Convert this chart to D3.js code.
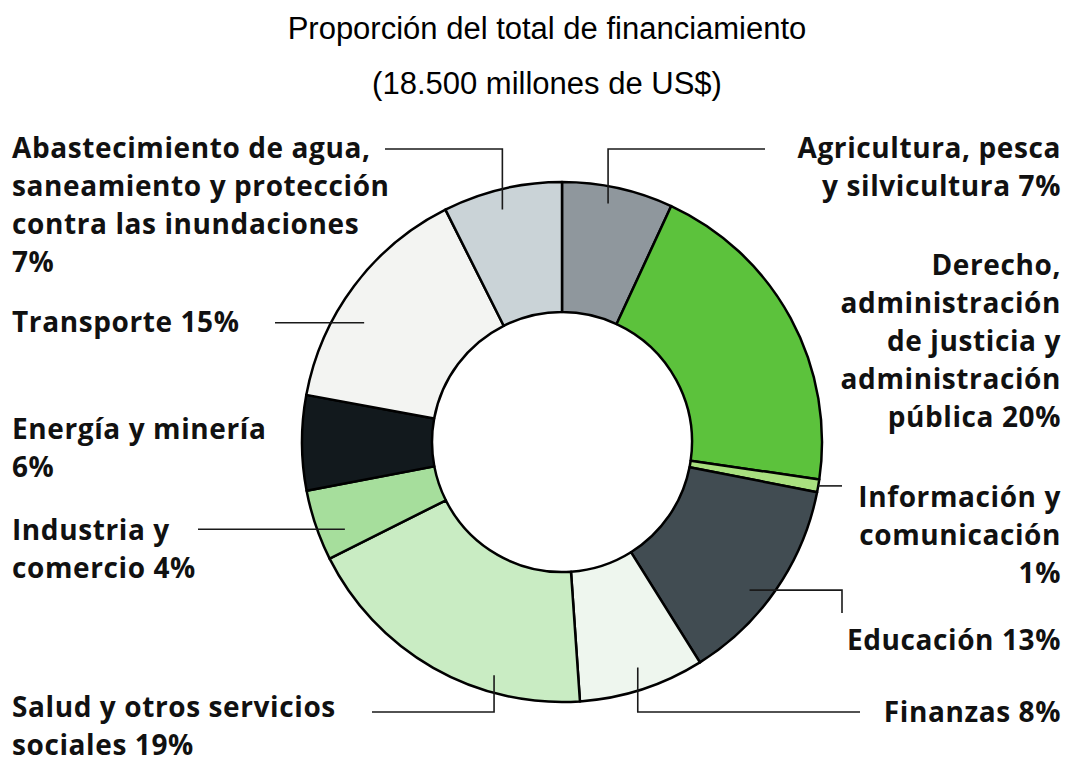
<!DOCTYPE html>
<html>
<head>
<meta charset="utf-8">
<script src="https://cdn.jsdelivr.net/npm/d3@7"></script>
<style>
  body { margin: 0; background: #fff; }
  #chart { width: 1068px; height: 763px; }
</style>
</head>
<body>
<div id="chart"></div>
<script>
// Title
const title = "Proporción del total de financiamiento";
const subtitle = "(18.500 millones de US$)";

// Sectors, clockwise from 12 o'clock
const sectors = [
    "Agricultura, pesca y silvicultura",
    "Derecho, administración de justicia y administración pública",
    "Información y comunicación",
    "Educación",
    "Finanzas",
    "Salud y otros servicios sociales",
    "Industria y comercio",
    "Energía y minería",
    "Transporte",
    "Abastecimiento de agua, saneamiento y protección contra las inundaciones"
];

// share of total financing (%)
const shares = [6.9, 20.4, 0.8, 13.0, 7.8, 18.7, 4.4, 5.9, 14.7, 7.4];

// label text as printed
const labelLines = [
    ["Agricultura, pesca", "y silvicultura 7%"],
    ["Derecho,", "administración", "de justicia y", "administración", "pública 20%"],
    ["Información y", "comunicación", "1%"],
    ["Educación 13%"],
    ["Finanzas 8%"],
    ["Salud y otros servicios", "sociales 19%"],
    ["Industria y", "comercio 4%"],
    ["Energía y minería", "6%"],
    ["Transporte 15%"],
    ["Abastecimiento de agua,", "saneamiento y protección", "contra las inundaciones", "7%"]
];

const colors = ["#8f979d", "#5cc23c", "#a9e07f", "#414c52", "#eef6ee",
                "#c9ecc3", "#a6de9c", "#12191d", "#f3f4f2", "#cad3d7"];

const width = 1068, height = 763;
const cx = 562, cy = 442;
const outerR = 260, innerR = 130;
const lineH = 38;

// label placement: side, first baseline, leader (anchor inside slice + elbow points)
const layout = [
    { side: "right", y: 158, leader: { frac: 0.44, r: 243, pts: s => [[s[0], 149], [765, 149]] } },
    { side: "right", y: 275, leader: null },
    { side: "right", y: 507, leader: { frac: 0.5, r: 260, pts: s => [[842, s[1]]] } },
    { side: "right", y: 650, leader: { frac: 0.58, r: 239, pts: s => [[842, s[1]], [842, 613]] } },
    { side: "right", y: 722, leader: { frac: 0.48, r: 238, pts: s => [[s[0], 712], [860, 712]] } },
    { side: "left", y: 717, leader: { frac: 0.30, r: 243, pts: s => [[s[0], 712], [372, 712]] } },
    { side: "left", y: 540, leader: { frac: 0.30, r: 234, pts: s => [[198, s[1]]] } },
    { side: "left", y: 439, leader: null },
    { side: "left", y: 332, leader: { frac: 0.39, r: 231, pts: s => [[275, s[1]]] } },
    { side: "left", y: 158, leader: { frac: 0.46, r: 240, pts: s => [[s[0], 149], [385, 149]] } }
];

const svg = d3.select("#chart")
    .append("svg")
    .attr("width", width)
    .attr("height", height);

svg.append("text")
    .attr("x", 547)
    .attr("y", 39)
    .attr("text-anchor", "middle")
    .style("font-family", "Liberation Sans, Arial, sans-serif")
    .style("font-size", "31px")
    .attr("fill", "#000")
    .text(title);

svg.append("text")
    .attr("x", 547)
    .attr("y", 94)
    .attr("text-anchor", "middle")
    .style("font-family", "Liberation Sans, Arial, sans-serif")
    .style("font-size", "31px")
    .attr("fill", "#000")
    .text(subtitle);

const pie = d3.pie().sort(null).value(d => d);
const arcs = pie(shares);

const arc = d3.arc()
    .innerRadius(innerR)
    .outerRadius(outerR);

const g = svg.append("g")
    .attr("transform", `translate(${cx},${cy})`);

g.selectAll("path")
    .data(arcs)
    .join("path")
    .attr("d", arc)
    .attr("fill", (d, i) => colors[i])
    .attr("stroke", "#000")
    .attr("stroke-width", 2.5)
    .attr("stroke-linejoin", "round");

// polar point inside a slice, in page coordinates
function anchorPoint(d, frac, r) {
    const a = d.startAngle + frac * (d.endAngle - d.startAngle);
    return [cx + r * Math.sin(a), cy - r * Math.cos(a)];
}

const line = d3.line();

arcs.forEach((d, i) => {
    const lay = layout[i];
    if (lay.leader) {
        const s = anchorPoint(d, lay.leader.frac, lay.leader.r);
        const pts = [s].concat(lay.leader.pts(s));
        svg.append("path")
            .attr("d", line(pts))
            .attr("fill", "none")
            .attr("stroke", "#1a1a1a")
            .attr("stroke-width", 1.6);
    }

    const t = svg.append("text")
        .attr("text-anchor", lay.side === "left" ? "start" : "end")
        .style("font-family", "Open Sans, Noto Sans, sans-serif")
        .style("font-weight", 700)
        .style("font-size", "28px")
        .style("letter-spacing", "0.6px")
        .attr("fill", "#111");

    labelLines[i].forEach((txt, k) => {
        t.append("tspan")
            .attr("x", lay.side === "left" ? 12 : 1061)
            .attr("y", lay.y + k * lineH)
            .text(txt);
    });
});
</script>
</body>
</html>
